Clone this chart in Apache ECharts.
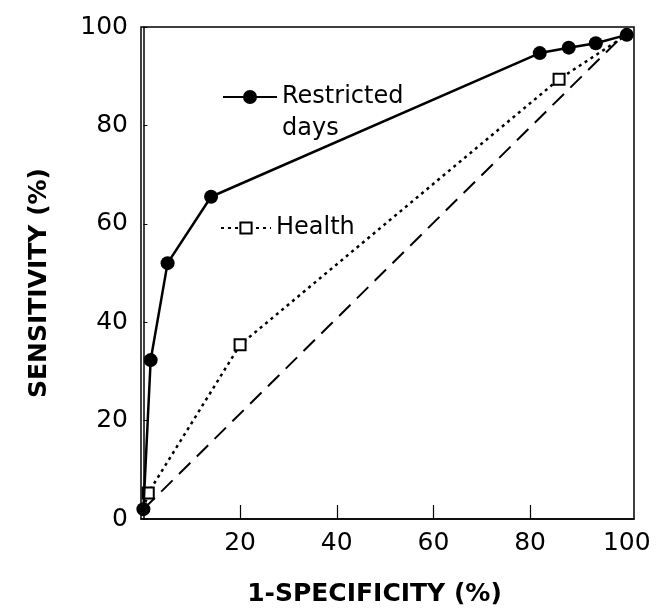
<!DOCTYPE html>
<html>
<head>
<meta charset="utf-8">
<script src="https://cdn.jsdelivr.net/npm/echarts@6/dist/echarts.min.js"></script>
<style>
  html, body { margin: 0; padding: 0; background: #fff; }
  #main { width: 660px; height: 608px; }
</style>
</head>
<body>
<div id="main"></div>
<script>
// values (percent)
var restrictedX = [0, 1.5, 5, 14, 82, 88, 93.6, 100];
var restrictedY = [2, 32.3, 52, 65.5, 94.7, 95.8, 96.7, 98.4];
var healthX = [0, 1, 20, 86, 100];
var healthY = [2, 5.3, 35.4, 89.4, 98.4];
var chanceX = [0, 100];
var chanceY = [2, 99];
var xTicks = [20, 40, 60, 80, 100];

var myChart = echarts.init(document.getElementById('main'));
var font = 'DejaVu Sans';

function pairs(xs, ys) {
    return xs.map(function (x, i) { return [x, ys[i]]; });
}

// the health curve runs from the corners, but only the inner points are marked
var healthData = pairs(healthX, healthY).map(function (p, i) {
    if (i === 0 || i === healthX.length - 1) {
        return { value: p, symbol: 'none' };
    }
    return { value: p };
});

let option = {
    backgroundColor: '#fff',
    animation: false,
    grid: {
        left: 141, right: 26, top: 27, bottom: 89,
        outerBoundsMode: 'none',
        show: true, borderColor: '#000', borderWidth: 1.5
    },
    legend: [
        {
            data: ['Restricted days'],
            left: 222, top: 49, padding: 0,
            itemWidth: 54, itemHeight: 17.5,
            // empty first line keeps the icon level with "Restricted"
            formatter: '\nRestricted\ndays',
            textStyle: { fontFamily: font, fontSize: 24, color: '#000', lineHeight: 32 }
        },
        {
            data: ['Health'],
            left: 220, top: 214, padding: 0,
            itemWidth: 50, itemHeight: 14,
            textStyle: { fontFamily: font, fontSize: 24, color: '#000', lineHeight: 28 }
        }
    ],
    xAxis: {
        type: 'value',
        min: -0.5, max: 101.5,
        splitLine: { show: false },
        axisLine: { lineStyle: { color: '#000', width: 1.5 } },
        axisTick: { inside: true, length: 14, customValues: [20, 40, 60, 80], lineStyle: { color: '#000', width: 1.2 } },
        axisLabel: { customValues: xTicks, margin: 12, fontFamily: font, fontSize: 25, color: '#000' },
        name: '1-SPECIFICITY (%)',
        nameLocation: 'middle',
        nameGap: 63,
        nameTextStyle: { fontFamily: font, fontWeight: 'bold', fontSize: 25, color: '#000', padding: [0, 26, 0, 0] }
    },
    yAxis: {
        type: 'value',
        min: 0, max: 100, interval: 20,
        splitLine: { show: false },
        axisLine: { lineStyle: { color: '#000', width: 1.5 } },
        axisTick: { inside: true, length: 4, lineStyle: { color: '#000', width: 1 } },
        axisLabel: { margin: 13, fontFamily: font, fontSize: 25, color: '#000' },
        name: 'SENSITIVITY (%)',
        nameLocation: 'middle',
        nameGap: 89,
        nameTextStyle: { fontFamily: font, fontWeight: 'bold', fontSize: 25, color: '#000', padding: [0, 20, 0, 0] }
    },
    series: [
        {
            name: 'Chance',
            type: 'line',
            data: pairs(chanceX, chanceY),
            symbol: 'none',
            lineStyle: { color: '#000', width: 2, type: [16, 9] },
            z: 1
        },
        {
            name: 'Health',
            type: 'line',
            data: healthData,
            symbol: 'rect',
            symbolSize: 11,
            itemStyle: { color: '#fff', borderColor: '#000', borderWidth: 2 },
            lineStyle: { color: '#000', width: 2.5, type: [3, 4] },
            z: 2
        },
        {
            name: 'Restricted days',
            type: 'line',
            data: pairs(restrictedX, restrictedY),
            symbol: 'circle',
            symbolSize: 14,
            itemStyle: { color: '#000' },
            lineStyle: { color: '#000', width: 2.5 },
            z: 3
        }
    ]
};

myChart.setOption(option);
</script>
</body>
</html>
